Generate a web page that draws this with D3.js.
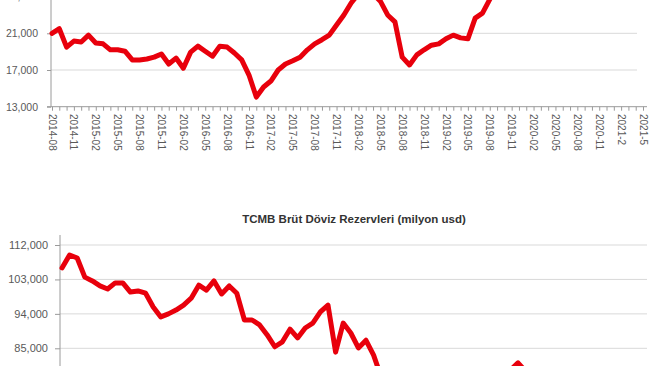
<!DOCTYPE html>
<html>
<head>
<meta charset="utf-8">
<script src="https://cdn.jsdelivr.net/npm/d3@7"></script>
<style>
  html, body { margin: 0; padding: 0; background: #ffffff; overflow: hidden; }
  svg { display: block; }
  text { font-family: "Liberation Sans", Arial, sans-serif; }
</style>
</head>
<body>
<svg id="chart" width="654" height="366"></svg>
<script>
// ---------- Top chart data (monthly, from 2014-08) ----------
const topStart = "2014-08";
const topValues = [
  21000, 21500, 19500, 20150, 20050, 20800, 19950, 19850, 19200, 19200,
  19050, 18100, 18100, 18200, 18400, 18750, 17650, 18300, 17200, 18950,
  19600, 19050, 18500, 19600, 19500, 18850, 18100, 16450, 14050, 15150,
  15800, 17000, 17650, 18000, 18400, 19200, 19850, 20300, 20800, 21900,
  23000, 24300, 25300, 25600, 25300, 24500, 23000, 22250, 18400, 17550,
  18650, 19200, 19700, 19850, 20400, 20800, 20500, 20400, 22650, 23200,
  24700, 26800, 28500, 30200, 31500
];
const topTickLabels = [
  "2014-08","2014-11","2015-02","2015-05","2015-08","2015-11","2016-02",
  "2016-05","2016-08","2016-11","2017-02","2017-05","2017-08","2017-11",
  "2018-02","2018-05","2018-08","2018-11","2019-02","2019-05","2019-08",
  "2019-11","2020-02","2020-05","2020-08","2020-11","2021-2","2021-5"
];
const topYTicks = [13000, 17000, 21000, 25000];

// ---------- Bottom chart data ----------
const bottomTitle = "TCMB Brüt Döviz Rezervleri (milyon usd)";
const bottomValues = [
  106000, 109400, 108600, 103600, 102600, 101300, 100500, 102100, 102100, 99700,
  100000, 99400, 95800, 93200, 94000, 95000, 96300, 98100, 101500, 100200,
  102600, 99200, 101300, 99400, 92400, 92400, 91100, 88500, 85400, 86700,
  90000, 87700, 90300, 91600, 94500, 96300, 84000, 91600, 89000, 85100,
  87100, 83200, 77500, 74000, 72500, 73500, 75000, 74500, 76000, 77000,
  76500, 77500, 78000, 77000, 76500, 77500, 78000, 78500, 79000, 79300,
  81200, 79000, 77000, 76000
];
const bottomYTicks = [85000, 94000, 103000, 112000];

const svg = d3.select("#chart");
const red = "#e8000c";
const gridColor = "#d9d9d9";
const axisColor = "#9a9a9a";
const labelColor = "#595959";
const fmt = d3.format(",");

// ================= TOP CHART =================
const topMonthsTotal = 81; // 2014-08 .. 2021-05
const xTop = d3.scaleLinear().domain([0, topMonthsTotal]).range([52, 643]);
const yTop = d3.scaleLinear().domain([13000, 25000]).range([106.7, -3.4]);

const gTop = svg.append("g");
// gridlines
gTop.selectAll("line.grid").data(topYTicks.filter(d => d > 13000)).join("line")
  .attr("x1", 51).attr("x2", 637)
  .attr("y1", d => yTop(d)).attr("y2", d => yTop(d))
  .attr("stroke", gridColor).attr("stroke-width", 1);

// y axis
const yAxisTop = d3.axisLeft(yTop).tickValues(topYTicks).tickFormat(fmt).tickSize(4).tickPadding(9);
const gyTop = gTop.append("g").attr("transform", "translate(51,0)").call(yAxisTop);
gyTop.select(".domain").attr("stroke", axisColor).attr("d", "M0,-10V106.7");
gyTop.selectAll(".tick line").attr("stroke", axisColor);
gyTop.selectAll(".tick text").attr("fill", labelColor).attr("font-size", "10.5px")
  .attr("font-family", "Liberation Sans, Arial, sans-serif");

// x axis (monthly ticks)
const xAxisTop = d3.axisBottom(xTop).tickValues(d3.range(0, topMonthsTotal + 1)).tickSize(4).tickFormat("");
const gxTop = gTop.append("g").attr("transform", "translate(0,106.7)").call(xAxisTop);
gxTop.select(".domain").attr("stroke", axisColor).attr("d", "M47,0H647");
gxTop.selectAll(".tick line").attr("stroke", axisColor);

// x labels every 3 months
gTop.selectAll("text.xlab").data(topTickLabels).join("text")
  .attr("class", "xlab")
  .attr("transform", (d, i) => `translate(${xTop(i * 3)},114) rotate(90)`)
  .attr("dy", "0.35em")
  .attr("text-anchor", "start")
  .attr("font-size", "10px")
  .attr("fill", labelColor)
  .text(d => d);

// line
const lineTop = d3.line().x((d, i) => xTop(i)).y(d => yTop(d));
gTop.append("path").datum(topValues)
  .attr("fill", "none").attr("stroke", red).attr("stroke-width", 5)
  .attr("stroke-linejoin", "round").attr("stroke-linecap", "round")
  .attr("d", lineTop);

// ================= BOTTOM CHART =================
const xBot = d3.scaleLinear().domain([0, 77]).range([62, 647.2]);
const yBot = d3.scaleLinear().domain([85000, 112000]).range([348.3, 245]);

const gBot = svg.append("g");
gBot.append("text")
  .attr("x", 354).attr("y", 223)
  .attr("text-anchor", "middle")
  .attr("font-size", "11.5px").attr("font-weight", "bold")
  .attr("fill", "#333333")
  .text(bottomTitle);

gBot.selectAll("line.grid").data(bottomYTicks).join("line")
  .attr("x1", 60).attr("x2", 647)
  .attr("y1", d => yBot(d)).attr("y2", d => yBot(d))
  .attr("stroke", gridColor).attr("stroke-width", 1);

const yAxisBot = d3.axisLeft(yBot).tickValues(bottomYTicks).tickFormat(fmt).tickSize(5).tickPadding(7);
const gyBot = gBot.append("g").attr("transform", "translate(60,0)").call(yAxisBot);
gyBot.select(".domain").attr("stroke", axisColor).attr("d", "M0,235V380");
gyBot.selectAll(".tick line").attr("stroke", axisColor);
gyBot.selectAll(".tick text").attr("fill", labelColor).attr("font-size", "11px")
  .attr("font-family", "Liberation Sans, Arial, sans-serif");

const lineBot = d3.line().x((d, i) => xBot(i)).y(d => yBot(d));
gBot.append("path").datum(bottomValues)
  .attr("fill", "none").attr("stroke", red).attr("stroke-width", 5)
  .attr("stroke-linejoin", "round").attr("stroke-linecap", "round")
  .attr("d", lineBot);
</script>
</body>
</html>
